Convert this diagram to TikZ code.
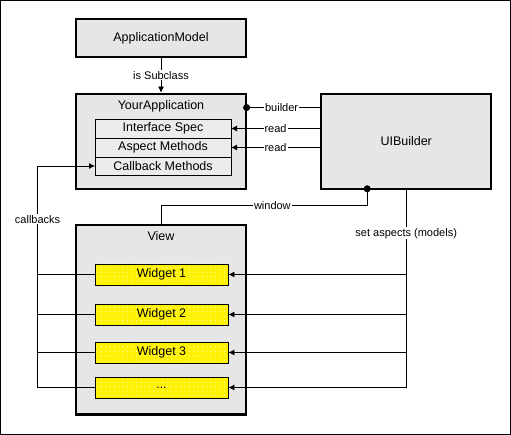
\documentclass[tikz,border=0pt]{standalone}
\usepackage{fontspec}
\setmainfont{Liberation Sans}
\usetikzlibrary{positioning,arrows.meta,patterns}
\definecolor{boxgray}{RGB}{230,230,230}
\definecolor{rowgray}{RGB}{236,236,236}
\pgfdeclarepatternformonly{sparsedots}{\pgfqpoint{-1pt}{-1pt}}{\pgfqpoint{1pt}{1pt}}{\pgfqpoint{4.4pt}{4.4pt}}{\pgfpathcircle{\pgfqpoint{0pt}{0pt}}{0.55pt}\pgfusepath{fill}}
\begin{document}
\begin{tikzpicture}[x=1pt,y=-1pt,node distance=34.5pt]
        \tikzstyle{bigbox} = [rectangle, minimum width=170pt, draw=black, line width=2.2pt, fill=boxgray, font=\fontsize{12.5}{14}\selectfont]
        \tikzstyle{row} = [rectangle, minimum width=136pt, minimum height=19pt, inner sep=0pt, outer sep=0pt, draw=black, line width=0.8pt, fill=rowgray, font=\fontsize{12.5}{14}\selectfont]
        \tikzstyle{widget} = [rectangle, minimum width=133pt, minimum height=21pt, inner sep=0pt, draw=black, line width=0.8pt, preaction={fill=yellow}, pattern=sparsedots, pattern color=white, font=\fontsize{12.5}{14}\selectfont]
        \tikzstyle{lbl} = [fill=white, inner sep=1pt, font=\fontsize{11}{13}\selectfont]
        \tikzstyle{arrow} = [line width=0.8pt,-{Latex[length=6pt,width=6pt]}]
        \tikzstyle{dotline} = [line width=0.8pt,{Circle[length=7pt]}-]
        \useasboundingbox (0,0) rectangle (511,435);
        \draw[line width=0.8pt] (0.5,0.5) rectangle (510,434);

        \node (appmodel) [bigbox, minimum height=38pt] at (161,38) {ApplicationModel};
        \node (yourapp) [bigbox, minimum height=95pt, below=of appmodel,
            label={[below=4pt,font=\fontsize{12.5}{14}\selectfont]north:YourApplication}] {};
        \node (uibuilder) [bigbox, minimum height=95pt, right=73pt of yourapp] {UIBuilder};
        \node (view) [bigbox, minimum height=189pt, below=of yourapp,
            label={[below=4pt,font=\fontsize{12.5}{14}\selectfont]north:View}] {};

        \node (spec) [row] at (163,128.5) {Interface Spec};
        \node (aspect) [row, below=0pt of spec] {Aspect Methods};
        \node (callback) [row, minimum height=18pt, below=0pt of aspect] {Callback Methods};

        \node (w1) [widget] at (161.5,274.5) {Widget 1};
        \node (w2) [widget] at (161.5,314.5) {Widget 2};
        \node (w3) [widget] at (161.5,352.5) {Widget 3};
        \node (w4) [widget] at (161.5,387.5) {...};

        \draw [arrow] (appmodel) -- node[lbl] {is Subclass} (yourapp);
        \draw [dotline] ([xshift=-4pt,yshift=-15pt]yourapp.north east) -- node[lbl] {builder} ([yshift=-15pt]uibuilder.north west);
        \draw [arrow] (uibuilder.west |- spec.east) -- node[lbl] {read} (spec.east);
        \draw [arrow] (uibuilder.west |- aspect.east) -- node[lbl] {read} (aspect.east);
        \draw [dotline] ([xshift=-39pt,yshift=4.5pt]uibuilder.south) -- ++(0,20) -| node[lbl, pos=0.23] {window} (view.north);

        \draw [line width=0.8pt] (uibuilder.south) -- node[lbl, pos=0.22] {set aspects (models)} (uibuilder.south |- w4.east);
        \foreach \w in {w1,w2,w3,w4}
            \draw [arrow] (uibuilder.south |- \w.east) -- (\w.east);

        \draw [arrow] (w4.west) -- ++(-57pt,0) coordinate (cbend) |- node[lbl, pos=0.38] {callbacks} (callback.west);
        \foreach \w in {w1,w2,w3}
            \draw [line width=0.8pt] (\w.west) -- (\w.west -| cbend);
    \end{tikzpicture}
\end{document}
